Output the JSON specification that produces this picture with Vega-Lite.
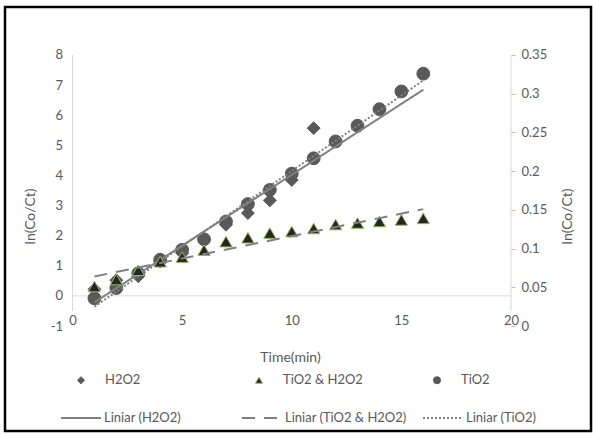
{
  "$schema": "https://vega.github.io/schema/vega-lite/v6.json",
  "width": 586,
  "height": 424,
  "autosize": {"type": "none"},
  "padding": {"left": 5, "top": 7, "right": 2, "bottom": 3},
  "background": "white",
  "config": {
    "view": {"stroke": "black", "strokeWidth": 2.5},
    "font": "Lato",
    "legend": {"padding": 0, "labelFont": "Lato", "labelFontSize": 13, "labelColor": "#595959", "gridAlign": "all"}
  },
  "datasets": {
    "left": [
      {"t": 1, "v": 0.22, "series": "H2O2", "trend": "Liniar (H2O2)"},
      {"t": 2, "v": 0.52, "series": "H2O2", "trend": "Liniar (H2O2)"},
      {"t": 3, "v": 0.65, "series": "H2O2", "trend": "Liniar (H2O2)"},
      {"t": 4, "v": 1.14, "series": "H2O2", "trend": "Liniar (H2O2)"},
      {"t": 5, "v": 1.42, "series": "H2O2", "trend": "Liniar (H2O2)"},
      {"t": 6, "v": 1.88, "series": "H2O2", "trend": "Liniar (H2O2)"},
      {"t": 7, "v": 2.36, "series": "H2O2", "trend": "Liniar (H2O2)"},
      {"t": 8, "v": 2.75, "series": "H2O2", "trend": "Liniar (H2O2)"},
      {"t": 9, "v": 3.17, "series": "H2O2", "trend": "Liniar (H2O2)"},
      {"t": 10, "v": 3.85, "series": "H2O2", "trend": "Liniar (H2O2)"},
      {"t": 11, "v": 5.57, "series": "H2O2", "trend": "Liniar (H2O2)"},
      {"t": 1, "v": -0.08, "series": "TiO2", "trend": "Liniar (TiO2)"},
      {"t": 2, "v": 0.26, "series": "TiO2", "trend": "Liniar (TiO2)"},
      {"t": 3, "v": 0.75, "series": "TiO2", "trend": "Liniar (TiO2)"},
      {"t": 4, "v": 1.2, "series": "TiO2", "trend": "Liniar (TiO2)"},
      {"t": 5, "v": 1.53, "series": "TiO2", "trend": "Liniar (TiO2)"},
      {"t": 6, "v": 1.88, "series": "TiO2", "trend": "Liniar (TiO2)"},
      {"t": 7, "v": 2.47, "series": "TiO2", "trend": "Liniar (TiO2)"},
      {"t": 8, "v": 3.05, "series": "TiO2", "trend": "Liniar (TiO2)"},
      {"t": 9, "v": 3.52, "series": "TiO2", "trend": "Liniar (TiO2)"},
      {"t": 10, "v": 4.06, "series": "TiO2", "trend": "Liniar (TiO2)"},
      {"t": 11, "v": 4.57, "series": "TiO2", "trend": "Liniar (TiO2)"},
      {"t": 12, "v": 5.13, "series": "TiO2", "trend": "Liniar (TiO2)"},
      {"t": 13, "v": 5.65, "series": "TiO2", "trend": "Liniar (TiO2)"},
      {"t": 14, "v": 6.2, "series": "TiO2", "trend": "Liniar (TiO2)"},
      {"t": 15, "v": 6.79, "series": "TiO2", "trend": "Liniar (TiO2)"},
      {"t": 16, "v": 7.38, "series": "TiO2", "trend": "Liniar (TiO2)"}
    ],
    "right": [
      {"t": 1, "v": 0.051, "series": "TiO2 & H2O2", "trend": "Liniar (TiO2 & H2O2)"},
      {"t": 2, "v": 0.060, "series": "TiO2 & H2O2", "trend": "Liniar (TiO2 & H2O2)"},
      {"t": 3, "v": 0.072, "series": "TiO2 & H2O2", "trend": "Liniar (TiO2 & H2O2)"},
      {"t": 4, "v": 0.083, "series": "TiO2 & H2O2", "trend": "Liniar (TiO2 & H2O2)"},
      {"t": 5, "v": 0.089, "series": "TiO2 & H2O2", "trend": "Liniar (TiO2 & H2O2)"},
      {"t": 6, "v": 0.098, "series": "TiO2 & H2O2", "trend": "Liniar (TiO2 & H2O2)"},
      {"t": 7, "v": 0.109, "series": "TiO2 & H2O2", "trend": "Liniar (TiO2 & H2O2)"},
      {"t": 8, "v": 0.114, "series": "TiO2 & H2O2", "trend": "Liniar (TiO2 & H2O2)"},
      {"t": 9, "v": 0.120, "series": "TiO2 & H2O2", "trend": "Liniar (TiO2 & H2O2)"},
      {"t": 10, "v": 0.122, "series": "TiO2 & H2O2", "trend": "Liniar (TiO2 & H2O2)"},
      {"t": 11, "v": 0.126, "series": "TiO2 & H2O2", "trend": "Liniar (TiO2 & H2O2)"},
      {"t": 12, "v": 0.131, "series": "TiO2 & H2O2", "trend": "Liniar (TiO2 & H2O2)"},
      {"t": 13, "v": 0.133, "series": "TiO2 & H2O2", "trend": "Liniar (TiO2 & H2O2)"},
      {"t": 14, "v": 0.135, "series": "TiO2 & H2O2", "trend": "Liniar (TiO2 & H2O2)"},
      {"t": 15, "v": 0.137, "series": "TiO2 & H2O2", "trend": "Liniar (TiO2 & H2O2)"},
      {"t": 16, "v": 0.139, "series": "TiO2 & H2O2", "trend": "Liniar (TiO2 & H2O2)"}
    ],
    "frame": [
      {"t": 0, "v": -0.5, "t2": 0, "v2": 8},
      {"t": 0, "v": 0, "t2": 20, "v2": 0},
      {"t": 20, "v": -0.5, "t2": 20, "v2": 8}
    ]
  },
  "encoding": {
    "x": {
      "field": "t", "type": "quantitative",
      "scale": {"domain": [-3.079, 23.649], "nice": false, "zero": false},
      "axis": {
        "orient": "bottom", "offset": -111, "values": [0, 5, 10, 15, 20],
        "domain": false, "ticks": false, "grid": false, "labelPadding": 0, "labelBaseline": "middle",
        "labelFont": "Lato", "labelFontSize": 13, "labelColor": "#595959",
        "title": "Time(min)", "titleFont": "Lato", "titleFontSize": 14, "titleFontWeight": "normal",
        "titleColor": "#595959", "titleX": 285, "titleY": 37, "titleBaseline": "middle", "titleAlign": "center"
      }
    }
  },
  "layer": [
    {
      "encoding": {
        "y": {
          "field": "v", "type": "quantitative",
          "scale": {"domain": [-4.487, 9.594], "nice": false, "zero": false},
          "axis": {
            "orient": "left", "offset": -67.5, "values": [-1, 0, 1, 2, 3, 4, 5, 6, 7, 8],
            "labelExpr": "'' + datum.value",
            "domain": false, "ticks": false, "grid": false, "labelPadding": 10,
            "labelFont": "Lato", "labelFontSize": 13, "labelColor": "#595959",
            "title": "ln(Co/Ct)", "titleFont": "Lato", "titleFontSize": 14, "titleFontWeight": "normal",
            "titleColor": "#595959", "titleX": -42.5, "titleY": 209, "titleAngle": 270,
            "titleBaseline": "middle", "titleAlign": "center"
          }
        }
      },
      "layer": [
        {
          "data": {"name": "frame"},
          "mark": {"type": "rule", "color": "#d9d9d9", "strokeWidth": 1},
          "encoding": {"x2": {"field": "t2"}, "y2": {"field": "v2"}}
        },
        {
          "data": {"name": "left"},
          "mark": {"type": "point", "filled": true, "size": 165, "strokeWidth": 1, "opacity": 1},
          "encoding": {
            "shape": {"field": "series", "type": "nominal",
              "scale": {"domain": ["H2O2", "TiO2 & H2O2", "TiO2"], "range": ["diamond", "triangle-up", "circle"]},
              "legend": {"orient": "none", "legendX": 69.5, "legendY": 366.5, "direction": "horizontal", "columns": 3,
                "gridAlign": "all", "columnPadding": 67, "symbolSize": 50, "labelOffset": 17.5, "title": null,
                "symbolStrokeWidth": 1}},
            "fill": {"field": "series", "type": "nominal",
              "scale": {"domain": ["H2O2", "TiO2 & H2O2", "TiO2"], "range": ["#595959", "#262626", "#595959"]},
              "legend": {"orient": "none", "legendX": 69.5, "legendY": 366.5, "direction": "horizontal", "columns": 3,
                "gridAlign": "all", "columnPadding": 67, "symbolSize": 50, "labelOffset": 17.5, "title": null,
                "symbolStrokeWidth": 1}},
            "stroke": {"field": "series", "type": "nominal",
              "scale": {"domain": ["H2O2", "TiO2 & H2O2", "TiO2"], "range": ["#595959", "#9bbb59", "#595959"]},
              "legend": {"orient": "none", "legendX": 69.5, "legendY": 366.5, "direction": "horizontal", "columns": 3,
                "gridAlign": "all", "columnPadding": 67, "symbolSize": 50, "labelOffset": 17.5, "title": null,
                "symbolStrokeWidth": 1}}
          }
        },
        {
          "data": {"name": "left"},
          "transform": [{"regression": "v", "on": "t", "groupby": ["trend"], "extent": [1, 16]}],
          "mark": {"type": "line", "color": "#808080", "strokeWidth": 2},
          "encoding": {
            "strokeDash": {"field": "trend", "type": "nominal",
              "scale": {"domain": ["Liniar (H2O2)", "Liniar (TiO2 & H2O2)", "Liniar (TiO2)"], "range": [[1, 0], [13, 9], [2, 2]]},
              "legend": {"orient": "none", "legendX": 55, "legendY": 390, "direction": "horizontal", "columns": 3,
                "gridAlign": "all", "columnPadding": 12, "symbolType": "stroke", "symbolSize": 1600,
                "symbolStrokeWidth": 2, "symbolStrokeColor": "#808080", "labelOffset": 2, "title": null,
                "labelExpr": "datum.label == 'Liniar (H2O2)' ? datum.label + '\u00a0\u00a0\u00a0\u00a0\u00a0\u00a0\u00a0\u00a0\u00a0\u00a0\u00a0\u00a0\u00a0\u00a0\u00a0\u00a0\u00a0\u00a0\u00a0\u00a0' : datum.label == 'Liniar (TiO2)' ? datum.label + '\u00a0\u00a0\u00a0\u00a0\u00a0\u00a0\u00a0\u00a0\u00a0\u00a0\u00a0\u00a0\u00a0\u00a0\u00a0\u00a0\u00a0\u00a0\u00a0\u00a0\u00a0\u00a0' : datum.label"}}
          }
        }
      ]
    },
    {
      "data": {"name": "right"},
      "encoding": {
        "y": {
          "field": "v", "type": "quantitative",
          "scale": {"domain": [-0.1356, 0.41199], "nice": false, "zero": false},
          "axis": {
            "orient": "right", "offset": -80, "values": [0, 0.05, 0.1, 0.15, 0.2, 0.25, 0.3, 0.35],
            "format": "~g",
            "domain": false, "ticks": true, "tickSize": 4, "tickColor": "#bfbfbf", "grid": false, "labelPadding": 6,
            "labelFont": "Lato", "labelFontSize": 13, "labelColor": "#595959",
            "title": "ln(Co/Ct)", "titleFont": "Lato", "titleFontSize": 14, "titleFontWeight": "normal",
            "titleColor": "#595959", "titleX": 56, "titleY": 209, "titleAngle": 270,
            "titleBaseline": "middle", "titleAlign": "center"
          }
        }
      },
      "layer": [
        {
          "mark": {"type": "point", "filled": true, "size": 150, "strokeWidth": 1, "opacity": 1},
          "encoding": {
            "shape": {"field": "series", "type": "nominal",
              "scale": {"domain": ["H2O2", "TiO2 & H2O2", "TiO2"], "range": ["diamond", "triangle-up", "circle"]},
              "legend": {"orient": "none", "legendX": 69.5, "legendY": 366.5, "direction": "horizontal", "columns": 3,
                "gridAlign": "all", "columnPadding": 67, "symbolSize": 50, "labelOffset": 17.5, "title": null,
                "symbolStrokeWidth": 1}},
            "fill": {"field": "series", "type": "nominal",
              "scale": {"domain": ["H2O2", "TiO2 & H2O2", "TiO2"], "range": ["#595959", "#262626", "#595959"]},
              "legend": {"orient": "none", "legendX": 69.5, "legendY": 366.5, "direction": "horizontal", "columns": 3,
                "gridAlign": "all", "columnPadding": 67, "symbolSize": 50, "labelOffset": 17.5, "title": null,
                "symbolStrokeWidth": 1}},
            "stroke": {"field": "series", "type": "nominal",
              "scale": {"domain": ["H2O2", "TiO2 & H2O2", "TiO2"], "range": ["#595959", "#9bbb59", "#595959"]},
              "legend": {"orient": "none", "legendX": 69.5, "legendY": 366.5, "direction": "horizontal", "columns": 3,
                "gridAlign": "all", "columnPadding": 67, "symbolSize": 50, "labelOffset": 17.5, "title": null,
                "symbolStrokeWidth": 1}}
          }
        },
        {
          "transform": [{"regression": "v", "on": "t", "groupby": ["trend"], "extent": [1, 16]}],
          "mark": {"type": "line", "color": "#808080", "strokeWidth": 2},
          "encoding": {
            "strokeDash": {"field": "trend", "type": "nominal",
              "scale": {"domain": ["Liniar (H2O2)", "Liniar (TiO2 & H2O2)", "Liniar (TiO2)"], "range": [[1, 0], [13, 9], [2, 2]]},
              "legend": {"orient": "none", "legendX": 55, "legendY": 390, "direction": "horizontal", "columns": 3,
                "gridAlign": "all", "columnPadding": 12, "symbolType": "stroke", "symbolSize": 1600,
                "symbolStrokeWidth": 2, "symbolStrokeColor": "#808080", "labelOffset": 2, "title": null,
                "labelExpr": "datum.label == 'Liniar (H2O2)' ? datum.label + '\u00a0\u00a0\u00a0\u00a0\u00a0\u00a0\u00a0\u00a0\u00a0\u00a0\u00a0\u00a0\u00a0\u00a0\u00a0\u00a0\u00a0\u00a0\u00a0\u00a0' : datum.label == 'Liniar (TiO2)' ? datum.label + '\u00a0\u00a0\u00a0\u00a0\u00a0\u00a0\u00a0\u00a0\u00a0\u00a0\u00a0\u00a0\u00a0\u00a0\u00a0\u00a0\u00a0\u00a0\u00a0\u00a0\u00a0\u00a0' : datum.label"}}
          }
        }
      ]
    }
  ],
  "resolve": {"scale": {"y": "independent"}, "axis": {"y": "independent"}}
}
